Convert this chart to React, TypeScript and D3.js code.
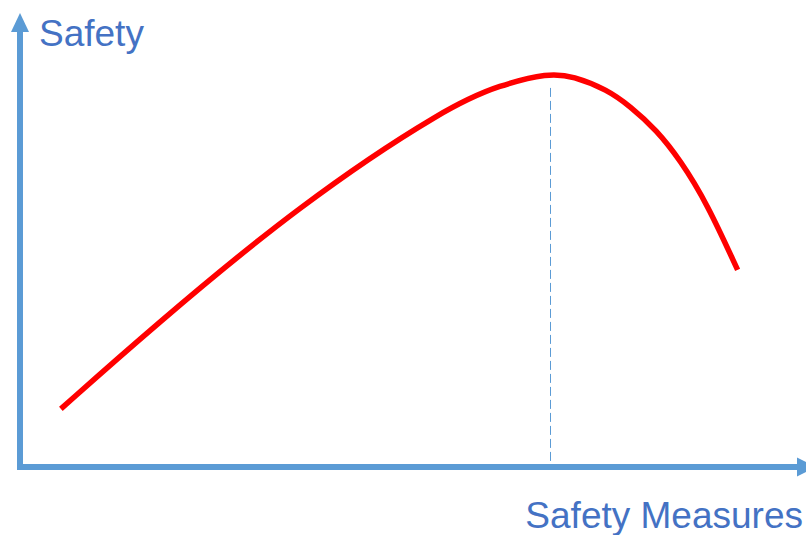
import React, { useEffect, useRef } from "react";
import * as d3 from "d3";

// Curve (measures 0-100, safety 0-100)
const measures = [5.2, 16.5, 35.6, 54.7, 61.1, 67.2, 70.4, 74.7, 77.6, 81.0, 84.0, 87.4, 91.3];
const safety = [12.8, 30.2, 57.9, 79.7, 84.1, 86.8, 86.1, 83.1, 79.5, 74.2, 67.6, 58.1, 43.4];
const peakMeasure = [67.4];
const peakDashTop = [83.5];
const axisLabels = ["Safety", "Safety Measures"];

const width = 806;
const height = 535;

const App: React.FC = () => {
  const svgRef = useRef<SVGSVGElement>(null);

  useEffect(() => {
    if (!svgRef.current) return;
    const svg = d3.select(svgRef.current);
    svg.selectAll("*").remove();

    const axisColor = "#5b9bd5";
    const textColor = "#4472c4";

    const x = d3.scaleLinear().domain([0, 100]).range([20, 806]);
    const y = d3.scaleLinear().domain([0, 100]).range([467, 13]);

    // dashed marker at the peak
    const px = Math.round(x(peakMeasure[0])) + 0.5;
    svg
      .append("line")
      .attr("x1", px)
      .attr("x2", px)
      .attr("y1", y(peakDashTop[0]))
      .attr("y2", y(0))
      .attr("stroke", axisColor)
      .attr("stroke-width", 1)
      .attr("stroke-dasharray", "9,4");

    // axes with arrow heads
    svg
      .append("line")
      .attr("x1", x(0))
      .attr("x2", x(0))
      .attr("y1", y(0) + 3)
      .attr("y2", 31)
      .attr("stroke", axisColor)
      .attr("stroke-width", 6);
    svg
      .append("path")
      .attr("d", `M${x(0)},13 L${x(0) - 9},32 L${x(0) + 9},32 Z`)
      .attr("fill", axisColor);

    svg
      .append("line")
      .attr("x1", x(0) - 3)
      .attr("x2", 798)
      .attr("y1", y(0))
      .attr("y2", y(0))
      .attr("stroke", axisColor)
      .attr("stroke-width", 6);
    svg
      .append("path")
      .attr("d", `M816,${y(0)} L797,${y(0) - 9.5} L797,${y(0) + 9.5} Z`)
      .attr("fill", axisColor);

    // red curve
    const pts = measures.map((m, i) => [m, safety[i]] as [number, number]);
    const line = d3
      .line<[number, number]>()
      .x((d) => x(d[0]))
      .y((d) => y(d[1]))
      .curve(d3.curveBasis);
    svg
      .append("path")
      .attr("d", line(pts) || "")
      .attr("fill", "none")
      .attr("stroke", "#ff0000")
      .attr("stroke-width", 5.5);

    // labels
    svg
      .append("text")
      .attr("x", 39)
      .attr("y", 46)
      .style("font-family", "'Liberation Sans', Arial, sans-serif")
      .style("font-size", "37px")
      .style("fill", textColor)
      .text(axisLabels[0]);
    svg
      .append("text")
      .attr("x", 803)
      .attr("y", 528)
      .attr("text-anchor", "end")
      .style("font-family", "'Liberation Sans', Arial, sans-serif")
      .style("font-size", "37px")
      .style("fill", textColor)
      .text(axisLabels[1]);
  }, []);

  return (
    <svg
      ref={svgRef}
      width={width}
      height={height}
      style={{ position: "absolute", left: 0, top: 0, background: "#fff" }}
    />
  );
};

export default App;
